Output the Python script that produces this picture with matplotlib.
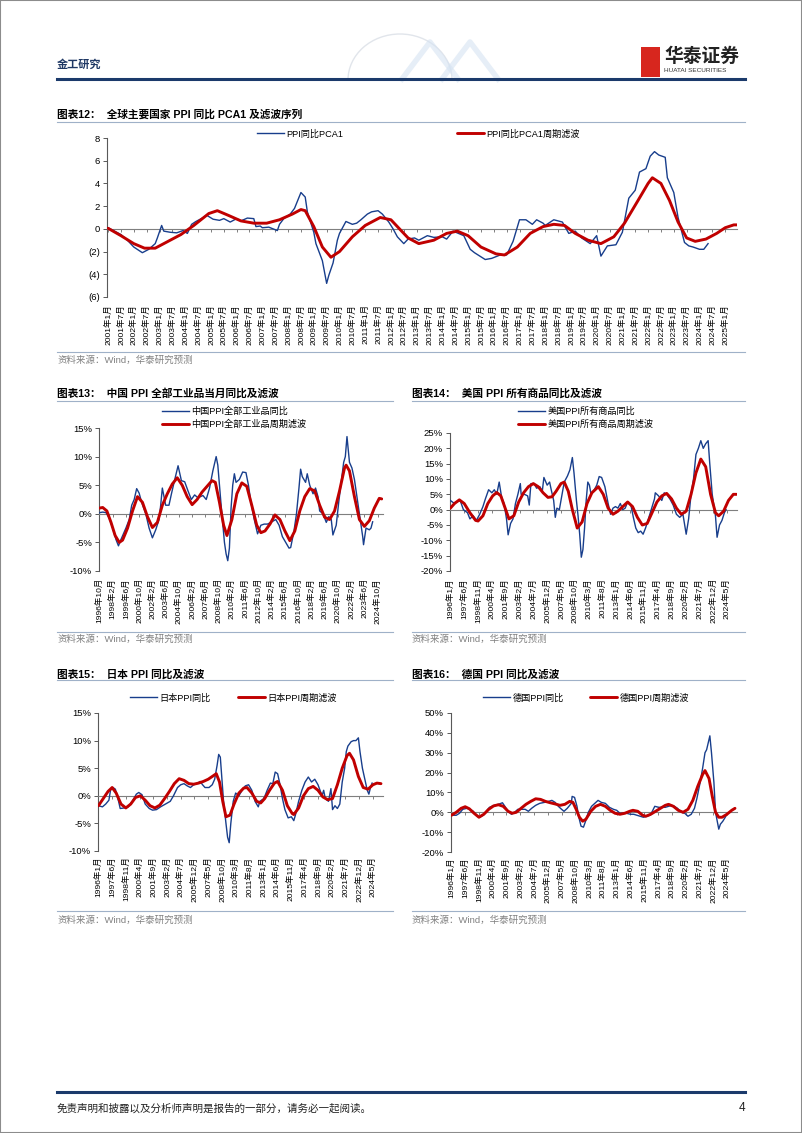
import matplotlib
matplotlib.use("Agg")
import matplotlib.pyplot as plt
from matplotlib.lines import Line2D
from matplotlib.legend import Legend
from matplotlib.patches import Rectangle, Arc
from matplotlib.ticker import FuncFormatter

plt.rcParams['font.family'] = ['Liberation Sans', 'Noto Sans CJK SC', 'DejaVu Sans']

BLUE = '#183E8C'
RED = '#C00000'
GRID = '#9FB1C8'
W, H = 802, 1133

# ---- 图表12: PCA1 (月份序号, 从2001年1月起)
pca_m = [0, 6, 9, 12, 16, 19, 22, 23, 25, 26, 29, 32, 35, 37, 39, 41, 44, 46, 49, 52,
         54, 57, 60, 62, 65, 68, 69, 71, 72, 75, 79, 80, 82, 85, 87, 90, 92, 93, 96, 97,
         100, 102, 103, 105, 107, 108, 111, 114, 116, 118, 121, 123, 126, 128, 131, 133, 135, 138, 140, 143,
         145, 149, 152, 156, 158, 161, 166, 169, 171, 176, 179, 183, 186, 189, 192, 195, 198, 200, 203, 204,
         208, 212, 215, 218, 221, 225, 228, 230, 233, 237, 240, 243, 246, 248, 251, 253, 255, 257, 260, 261,
         264, 266, 269, 271, 273, 276, 278, 280]
pca_v = [0.1, -0.5, -1.0, -1.6, -2.1, -1.8, -1.3, -0.8, 0.3, -0.2, -0.3, -0.35, -0.15, -0.4, 0.4, 0.65, 0.95, 1.2, 0.85, 0.75,
         0.9, 0.6, 0.9, 0.7, 0.95, 0.9, 0.2, 0.25, 0.1, 0.15, -0.15, 0.4, 0.9, 1.3, 1.8, 3.2, 2.8, 1.5, -0.3, -1.3,
         -2.8, -4.8, -4.1, -3.0, -1.0, -0.4, 0.65, 0.4, 0.5, 0.8, 1.3, 1.5, 1.6, 1.3, 0.6, 0.0, -0.7, -1.3, -0.9, -0.8,
         -1.0, -0.6, -0.75, -0.7, -0.9, -0.2, -0.6, -1.8, -2.1, -2.7, -2.6, -2.3, -2.3, -1.1, 0.8, 0.8, 0.4, 0.8, 0.5, 0.3,
         0.8, 0.6, -0.4, -0.2, -0.8, -1.3, -0.6, -2.4, -1.5, -1.4, -0.3, 2.7, 3.4, 5.0, 5.3, 6.4, 6.8, 6.5, 6.3, 4.5,
         3.2, 1.0, -1.2, -1.5, -1.6, -1.8, -1.8, -1.3]
pcaf_m = [0, 6, 12, 17, 22, 28, 34, 40, 47, 51, 56, 62, 68, 74, 80, 86, 90, 92, 96, 100,
          104, 108, 114, 120, 127, 132, 136, 140, 145, 152, 158, 163, 168, 174, 181, 185, 191, 197, 203, 208,
          213, 218, 224, 230, 236, 241, 247, 252, 254, 258, 262, 266, 270, 274, 279, 284, 288, 292, 294]
pcaf_v = [0.05, -0.6, -1.3, -1.7, -1.7, -1.1, -0.5, 0.3, 1.35, 1.6, 1.2, 0.7, 0.5, 0.5, 0.8, 1.3, 1.7, 1.6, 0.2, -1.6,
          -2.5, -2.0, -0.7, 0.3, 1.0, 0.8, 0.0, -0.8, -1.3, -1.0, -0.4, -0.2, -0.6, -1.6, -2.2, -2.3, -1.6, -0.4, 0.2, 0.4,
          0.3, -0.4, -1.0, -1.3, -0.7, 0.5, 2.4, 4.0, 4.5, 4.0, 2.5, 0.6, -0.8, -1.1, -0.9, -0.4, 0.1, 0.35, 0.35]
pca_ticks = [f"{2001 + i // 2}年{1 + 6 * (i % 2)}月" for i in range(49)]

# ---- 图表13: 中国 (月份序号, 从1996年10月起)
cn_m = [0, 4, 8, 12, 16, 20, 23, 26, 32, 36, 39, 42, 45, 48, 51, 56, 60, 64, 68, 72,
        74, 76, 80, 84, 87, 91, 95, 99, 103, 107, 111, 115, 119, 125, 129, 133, 137, 141, 143, 147,
        151, 153, 155, 157, 159, 161, 163, 165, 169, 173, 177, 180, 183, 187, 191, 195, 199, 203, 207, 213,
        217, 221, 225, 229, 231, 235, 238, 241, 243, 245, 249, 251, 254, 258, 261, 264, 266, 270, 274, 277,
        280, 282, 286, 289, 292, 295, 297, 299, 302, 305, 308, 312, 315, 318, 319, 322, 326, 328, 330]
cn_v = [0.2, 0.3, 0.2, -0.8, -2.5, -4.5, -5.6, -4.5, -2.5, -1.0, 1.5, 2.5, 4.4, 3.6, 2.0, 0.0, -2.5, -4.2, -2.8, -1.0,
        1.5, 4.5, 1.5, 1.5, 3.5, 6.0, 8.4, 5.8, 5.6, 4.0, 2.5, 3.3, 2.8, 3.2, 2.5, 4.5, 7.5, 10.0, 8.5, 1.5,
        -5.0, -7.0, -8.2, -6.0, 1.0, 5.0, 7.0, 5.5, 6.0, 7.3, 7.2, 5.0, 2.0, -1.0, -3.5, -2.0, -1.8, -1.8, -1.5, -1.0,
        -2.0, -4.0, -5.0, -6.0, -5.9, -3.0, 0.0, 4.5, 7.8, 6.5, 5.5, 7.0, 5.0, 3.5, 4.5, 3.0, 0.5, 0.0, -1.5, -0.5,
        -1.0, -3.7, -2.0, 2.0, 5.5, 9.0, 10.0, 13.5, 9.0, 8.0, 6.0, 2.0, -1.0, -4.0, -5.4, -2.5, -2.8, -2.5, -1.4]
cnf_m = [0, 4, 9, 14, 19, 24, 28, 34, 40, 46, 52, 58, 64, 70, 76, 82, 88, 94, 100, 106,
         112, 118, 124, 130, 136, 140, 145, 150, 154, 160, 166, 172, 178, 184, 190, 195, 200, 206, 212, 218,
         224, 230, 236, 242, 248, 254, 260, 266, 272, 278, 284, 290, 296, 298, 302, 308, 314, 320, 326, 332,
         338, 341]
cnf_v = [1.0, 1.1, 0.5, -1.5, -3.8, -5.0, -4.6, -2.5, 0.5, 3.0, 2.0, -0.5, -2.4, -1.5, 1.5, 3.5, 5.2, 6.3, 5.0, 3.0,
         1.6, 2.5, 3.8, 4.8, 5.8, 5.5, 2.0, -2.0, -3.8, -1.0, 3.5, 5.4, 4.8, 1.5, -2.0, -3.3, -3.0, -1.8, -0.2, -1.0,
         -3.0, -4.7, -3.0, 0.5, 3.0, 4.4, 4.0, 1.5, -0.6, -1.0, 0.5, 4.0, 8.0, 8.5, 7.5, 3.0, -1.0, -2.2, -1.2, 1.0,
         2.7, 2.6]
cn_ticks = ['1996年10月', '1998年2月', '1999年6月', '2000年10月', '2002年2月', '2003年6月', '2004年10月',
            '2006年2月', '2007年6月', '2008年10月', '2010年2月', '2011年6月', '2012年10月', '2014年2月',
            '2015年6月', '2016年10月', '2018年2月', '2019年6月', '2020年10月', '2022年2月', '2023年6月',
            '2024年10月']

# ---- 图表14: 美国 (月份序号, 从1996年1月起)
us_m = [0, 4, 8, 12, 16, 21, 24, 28, 32, 36, 40, 43, 47, 51, 54, 57, 60, 63, 66, 69,
        71, 74, 77, 80, 83, 86, 87, 91, 95, 97, 99, 103, 106, 110, 113, 115, 119, 122, 124, 127,
        129, 131, 134, 137, 140, 144, 147, 150, 152, 155, 157, 159, 161, 163, 165, 167, 169, 171, 173, 177,
        180, 183, 186, 190, 194, 197, 200, 203, 206, 209, 212, 215, 218, 222, 225, 228, 231, 234, 237, 240,
        243, 247, 251, 252, 256, 260, 263, 266, 270, 274, 278, 282, 286, 290, 293, 296, 299, 302, 305, 308,
        311, 314, 317, 319, 322, 326, 328, 331, 334, 337, 339]
us_v = [3.0, 2.2, 2.5, 3.0, 0.0, -1.0, -3.0, -2.0, -3.5, -1.5, 1.0, 3.5, 6.5, 5.5, 6.5, 5.0, 9.0, 4.0, 2.0, -3.0,
        -8.2, -4.5, -3.0, 2.0, 5.0, 8.5, 5.0, 5.0, 4.5, 1.5, 8.5, 8.5, 7.0, 7.5, 6.0, 10.5, 8.0, 9.0, 6.5, 3.0,
        -2.5, 0.5, 0.0, 4.5, 9.0, 11.0, 13.0, 17.0, 12.0, 3.0, -2.0, -8.0, -15.5, -13.0, -6.0, 3.0, 9.0, 8.0, 5.0, 6.5,
        8.0, 10.8, 10.5, 7.5, 2.0, -1.5, 0.5, 1.0, 0.5, 2.0, 0.0, 0.5, 2.5, 1.5, -2.5, -6.0, -7.5, -7.0, -8.0, -6.0,
        -3.5, 0.0, 3.5, 5.5, 4.5, 3.0, 5.5, 5.0, 3.5, 1.5, -1.5, -2.5, -1.5, -8.0, -3.0, 5.0, 10.0, 18.0, 20.0, 22.5,
        20.0, 21.5, 22.5, 15.0, 5.0, -2.0, -9.0, -5.0, -3.5, -1.0, 0.0]
usf_m = [0, 5, 11, 17, 24, 31, 34, 40, 46, 52, 57, 62, 68, 72, 78, 84, 90, 96, 102, 108,
         114, 120, 125, 130, 136, 140, 145, 150, 156, 162, 168, 174, 182, 188, 194, 200, 206, 212, 218, 224,
         230, 236, 242, 248, 254, 260, 266, 272, 278, 284, 290, 296, 302, 308, 314, 320, 326, 330, 336, 342,
         348, 352]
usf_v = [0.5, 2.0, 3.2, 2.0, -1.0, -3.5, -3.7, -2.0, 2.0, 4.5, 5.6, 4.5, 0.0, -3.0, -2.0, 2.5, 5.5, 7.5, 8.5, 7.5,
         5.5, 4.0, 4.2, 6.0, 8.5, 9.0, 6.0, 0.0, -6.0, -4.0, 2.0, 5.5, 7.5, 5.0, 0.5, -1.5, -0.5, 1.0, 2.5, 1.0,
         -2.5, -5.0, -4.5, -1.0, 2.5, 4.5, 5.3, 3.5, 0.5, -1.5, -0.5, 5.0, 12.0, 16.5, 14.0, 5.0, -1.0, -2.0, -0.5, 3.0,
         5.0, 5.0]
m17_ticks = ['1996年1月', '1997年6月', '1998年11月', '2000年4月', '2001年9月', '2003年2月', '2004年7月',
             '2005年12月', '2007年5月', '2008年10月', '2010年3月', '2011年8月', '2013年1月', '2014年6月',
             '2015年11月', '2017年4月', '2018年9月', '2020年2月', '2021年7月', '2022年12月', '2024年5月']

# ---- 图表15: 日本 (月份序号, 从1996年1月起)
jp_m = [0, 5, 9, 13, 15, 18, 21, 25, 27, 32, 37, 42, 47, 50, 54, 58, 63, 67, 72, 77,
        83, 89, 93, 98, 102, 106, 110, 114, 118, 122, 126, 129, 132, 137, 141, 144, 147, 149, 151, 153,
        155, 158, 160, 162, 164, 167, 170, 174, 178, 182, 186, 190, 194, 198, 200, 205, 209, 213, 216, 219,
        222, 225, 228, 231, 235, 239, 242, 244, 248, 252, 256, 260, 264, 268, 272, 277, 279, 281, 285, 288,
        290, 293, 296, 299, 302, 305, 307, 309, 313, 316, 319, 322, 324, 327, 330, 333, 335, 337, 339]
jp_v = [-1.8, -2.0, -1.5, -0.8, 1.0, 1.5, 1.2, -1.0, -2.3, -2.2, -2.0, -1.0, 0.3, 0.6, 0.2, -1.5, -2.3, -2.6, -2.5, -2.0,
        -1.5, -1.0, 0.0, 1.5, 2.0, 2.2, 1.8, 1.5, 2.0, 2.2, 2.6, 2.0, 1.5, 1.5, 2.0, 3.0, 5.5, 7.5, 7.0, 3.0,
        -1.0, -5.0, -7.5, -8.5, -5.0, -1.0, 0.5, 0.0, 1.0, 1.8, 2.0, 1.0, -1.0, -2.0, -1.0, -0.5, 1.0, 2.3, 2.2, 4.3,
        4.0, 2.0, -0.5, -2.5, -4.0, -3.8, -4.5, -3.5, -1.0, 1.0, 2.5, 3.4, 2.5, 3.0, 2.0, 0.0, 1.0, -0.5, -1.0, 1.3,
        -2.5, -1.8, -2.3, -1.5, 2.5, 5.0, 8.0, 9.0, 9.8, 10.0, 10.0, 10.5, 8.0, 5.0, 3.0, 1.0, 0.3, 1.5, 2.3]
jpf_m = [0, 6, 12, 17, 22, 28, 34, 40, 46, 52, 58, 64, 70, 76, 82, 88, 94, 100, 106, 112,
         118, 124, 130, 136, 142, 146, 150, 154, 158, 163, 168, 174, 180, 184, 190, 196, 201, 206, 212, 218,
         222, 228, 234, 240, 242, 248, 254, 260, 266, 272, 278, 284, 290, 296, 302, 308, 311, 316, 322, 328,
         334, 340, 345, 350]
jpf_v = [-1.8, -0.5, 0.8, 1.5, 0.5, -1.5, -2.2, -1.5, -0.3, 0.0, -0.8, -1.8, -2.2, -1.7, -0.5, 0.8, 2.2, 3.1, 2.8, 2.2,
         2.1, 2.3, 2.6, 3.0, 3.6, 4.0, 2.5, -1.0, -3.8, -3.5, -1.5, 0.5, 1.4, 1.5, 0.5, -1.0, -1.3, -0.5, 1.0, 2.3,
         2.6, 1.0, -1.8, -3.2, -3.4, -2.2, 0.0, 1.3, 1.7, 1.0, -0.2, -0.7, -0.5, 2.0, 5.0, 7.3, 7.7, 6.5, 3.5, 1.5,
         1.2, 2.0, 2.3, 2.2]

# ---- 图表16: 德国 (月份序号, 从1996年1月起)
de_m = [0, 6, 10, 14, 19, 23, 27, 31, 35, 39, 43, 47, 53, 58, 63, 66, 70, 74, 78, 82,
        87, 91, 95, 99, 104, 109, 115, 120, 124, 128, 132, 136, 139, 143, 148, 149, 152, 155, 157, 160,
        163, 166, 169, 173, 177, 181, 185, 190, 195, 200, 204, 208, 212, 216, 221, 225, 229, 233, 237, 241,
        245, 248, 251, 256, 260, 264, 268, 272, 275, 279, 284, 288, 292, 296, 300, 303, 307, 310, 313, 315,
        317, 319, 321, 324, 326, 330, 332, 335, 338, 340]
de_v = [-1.5, -1.5, -0.5, 1.5, 2.0, 1.5, 0.5, -1.5, -2.5, -1.5, 0.5, 2.5, 3.5, 4.0, 4.8, 3.0, 0.5, -1.0, 0.0, 1.5,
        1.5, 1.5, 0.5, 2.0, 3.5, 4.5, 5.0, 5.5, 6.0, 5.0, 3.0, 1.5, 0.5, 2.0, 4.5, 8.0, 7.5, 3.0, -2.0, -7.0,
        -7.5, -4.0, 0.0, 3.0, 4.5, 6.0, 5.0, 4.5, 2.5, 1.5, 1.0, -0.5, -0.5, -0.5, -1.0, -1.0, -1.5, -2.0, -2.5, -2.0,
        -1.5, 0.5, 3.0, 2.5, 2.5, 2.5, 3.0, 3.5, 3.0, 2.0, 0.0, -0.5, -2.0, -1.0, 2.0, 7.0, 15.0, 22.0, 30.0, 31.5,
        35.0, 38.5, 30.0, 15.0, 0.0, -8.5, -6.0, -4.5, -2.5, -1.0]
def_m = [0, 6, 12, 17, 22, 28, 34, 40, 46, 52, 58, 64, 70, 75, 80, 86, 92, 98, 104, 110,
         116, 122, 128, 134, 140, 146, 150, 154, 158, 162, 166, 172, 178, 184, 190, 196, 202, 208, 214, 220,
         224, 230, 236, 240, 246, 252, 258, 264, 268, 274, 280, 286, 292, 298, 304, 310, 313, 318, 322, 326,
         330, 334, 340, 346, 350]
def_v = [-1.5, 0.0, 2.0, 2.8, 1.8, -0.5, -2.5, -1.0, 1.5, 3.2, 3.8, 3.0, 0.5, -0.5, 0.0, 2.0, 4.0, 5.5, 6.8, 6.5,
         5.5, 4.8, 4.2, 3.5, 4.0, 5.5, 5.0, 1.5, -2.5, -4.5, -3.5, 0.5, 3.0, 4.0, 3.0, 1.0, -0.5, -1.0, -0.5, 0.5,
         1.0, 0.5, -1.5, -2.0, -1.0, 0.5, 2.0, 3.5, 4.0, 3.0, 1.0, 0.0, 1.5, 6.0, 13.0, 19.0, 21.0, 17.0, 8.0, 0.0,
         -2.5, -2.5, -1.0, 1.0, 2.0]

fig = plt.figure(figsize=(W / 100, H / 100), dpi=100)
fig.patch.set_facecolor('white')


def hline(x0, x1, y, color, lw):
    fig.add_artist(Line2D([x0 / W, x1 / W], [1 - y / H, 1 - y / H], color=color, lw=lw,
                          transform=fig.transFigure))


def ftext(x, y, s, **kw):
    kw.setdefault('va', 'center')
    fig.text(x / W, 1 - y / H, s, **kw)


def pct(v, p):
    return f"{v:.0f}%"


def paren(v, p):
    return f"({-v:.0f})" if v < 0 else f"{v:.0f}"


def panel(box, bm, bv, rm, rv, ylim, yticks, fmt, xmax, tpos, tlabels, pad):
    x0, y0, x1, y1 = box
    ax = fig.add_axes([x0 / W, 1 - y1 / H, (x1 - x0) / W, (y1 - y0) / H])
    lb, = ax.plot(bm, bv, color=BLUE, lw=1.0, zorder=3)
    lr, = ax.plot(rm, rv, color=RED, lw=2.1, zorder=4, solid_joinstyle='round', solid_capstyle='round')
    ax.set_xlim(-0.5, xmax)
    ax.set_ylim(*ylim)
    ax.set_yticks(yticks)
    ax.yaxis.set_major_formatter(FuncFormatter(fmt))
    ax.spines['top'].set_visible(False)
    ax.spines['right'].set_visible(False)
    ax.spines['left'].set_color('#595959')
    ax.spines['left'].set_linewidth(0.8)
    ax.spines['bottom'].set_position(('data', 0))
    ax.spines['bottom'].set_color('#7F7F7F')
    ax.spines['bottom'].set_linewidth(0.8)
    ax.set_xticks(tpos)
    ax.tick_params(axis='x', labelbottom=False, length=2.5, width=0.7, color='#7F7F7F', direction='out')
    ax.tick_params(axis='y', labelsize=6.8, length=3, width=0.7, color='#595959', pad=2)
    sec = ax.secondary_xaxis('bottom')
    sec.set_xticks(tpos, tlabels)
    sec.tick_params(length=0, labelsize=6.1, rotation=90, pad=pad)
    sec.spines['bottom'].set_visible(False)
    return ax, lb, lr


def legend(ax, handles, labels, x, y, spacing=0.35):
    lg = Legend(ax, handles, labels, loc='center left', bbox_to_anchor=(x / W, 1 - y / H),
                bbox_transform=fig.transFigure, frameon=False, fontsize=6.6, handlelength=2.9,
                handletextpad=0.3, borderpad=0, borderaxespad=0, labelspacing=spacing)
    ax.add_artist(lg)
    return lg


# ---- page frame, header and footer
fig.add_artist(Rectangle((0, 0), 1, 1, transform=fig.transFigure, fill=False, edgecolor='#8C8C8C', lw=1.5))
fig.add_artist(Arc((400 / W, 1 - 80 / H), 104 / W, 92 / H, theta1=0, theta2=180, transform=fig.transFigure,
                   color='#E1E5EB', lw=1.0))
for cx in (430, 470):
    fig.add_artist(Line2D([(cx - 28) / W, cx / W, (cx + 28) / W], [1 - 79 / H, 1 - 42 / H, 1 - 79 / H],
                          color='#D6E3F2', lw=4, alpha=0.6, transform=fig.transFigure))
ftext(57, 65, '金工研究', fontsize=8, color='#1F3864', fontweight='bold')
fig.add_artist(Rectangle((641 / W, 1 - 77 / H), 19 / W, 30 / H, transform=fig.transFigure,
                         facecolor='#D7261E', edgecolor='none'))
ftext(664, 57, '华泰证券', fontsize=13.5, fontweight='bold', color='#222222')
ftext(664, 71, 'HUATAI SECURITIES', fontsize=4.6, color='#333333')
hline(57, 745, 79, '#1B3A6B', 2.2)

hline(57, 745, 1092, '#1B3A6B', 2.2)
ftext(57, 1108, '免责声明和披露以及分析师声明是报告的一部分，请务必一起阅读。', fontsize=7.6, color='#222222')
ftext(745, 1108, '4', fontsize=8.5, ha='right', color='#222222')

SRC = '资料来源：Wind，华泰研究预测'

# ---- 图表12
ftext(57, 114, '图表12：  全球主要国家 PPI 同比 PCA1 及滤波序列', fontsize=7.7, fontweight='bold')
hline(57, 745, 122, GRID, 0.8)
ax, lb, lr = panel((107, 138, 737, 297), pca_m, pca_v, pcaf_m, pcaf_v, (-6, 8), range(-6, 9, 2), paren,
                   293.5, range(0, 289, 6), pca_ticks, 5)
legend(ax, [lb], ['PPI同比PCA1'], 257, 134)
legend(ax, [lr], ['PPI同比PCA1周期滤波'], 457, 134)
hline(57, 745, 352, GRID, 0.8)
ftext(57, 360, SRC, fontsize=6.8, color='#808080')

# ---- 图表13
ftext(57, 393, '图表13：  中国 PPI 全部工业品当月同比及滤波', fontsize=7.7, fontweight='bold')
hline(57, 393, 401, GRID, 0.8)
ax, lb, lr = panel((99, 428, 383, 571), cn_m, cn_v, cnf_m, cnf_v, (-10, 15), range(-10, 16, 5), pct,
                   342.5, range(0, 337, 16), cn_ticks, 5)
legend(ax, [lb, lr], ['中国PPI全部工业品同比', '中国PPI全部工业品周期滤波'], 162, 418)
hline(57, 393, 632, GRID, 0.8)
ftext(57, 639, SRC, fontsize=6.8, color='#808080')

# ---- 图表14
ftext(412, 393, '图表14：  美国 PPI 所有商品同比及滤波', fontsize=7.7, fontweight='bold')
hline(412, 745, 401, GRID, 0.8)
ax, lb, lr = panel((450, 433, 737, 571), us_m, us_v, usf_m, usf_v, (-20, 25), range(-20, 26, 5), pct,
                   352.5, range(0, 341, 17), m17_ticks, 5)
legend(ax, [lb, lr], ['美国PPI所有商品同比', '美国PPI所有商品周期滤波'], 518, 418)
hline(412, 745, 632, GRID, 0.8)
ftext(412, 639, SRC, fontsize=6.8, color='#808080')

# ---- 图表15
ftext(57, 674, '图表15：  日本 PPI 同比及滤波', fontsize=7.7, fontweight='bold')
hline(57, 393, 680, GRID, 0.8)
ax, lb, lr = panel((98, 713, 383, 851), jp_m, jp_v, jpf_m, jpf_v, (-10, 15), range(-10, 16, 5), pct,
                   352.5, range(0, 341, 17), m17_ticks, 4)
legend(ax, [lb], ['日本PPI同比'], 130, 698)
legend(ax, [lr], ['日本PPI周期滤波'], 238, 698)
hline(57, 393, 911, GRID, 0.8)
ftext(57, 920, SRC, fontsize=6.8, color='#808080')

# ---- 图表16
ftext(412, 674, '图表16：  德国 PPI 同比及滤波', fontsize=7.7, fontweight='bold')
hline(412, 745, 680, GRID, 0.8)
ax, lb, lr = panel((451, 713, 737, 852), de_m, de_v, def_m, def_v, (-20, 50), range(-20, 51, 10), pct,
                   352.5, range(0, 341, 17), m17_ticks, 4)
legend(ax, [lb], ['德国PPI同比'], 483, 698)
legend(ax, [lr], ['德国PPI周期滤波'], 590, 698)
hline(412, 745, 911, GRID, 0.8)
ftext(412, 920, SRC, fontsize=6.8, color='#808080')

fig.savefig('out.png', dpi=100)
